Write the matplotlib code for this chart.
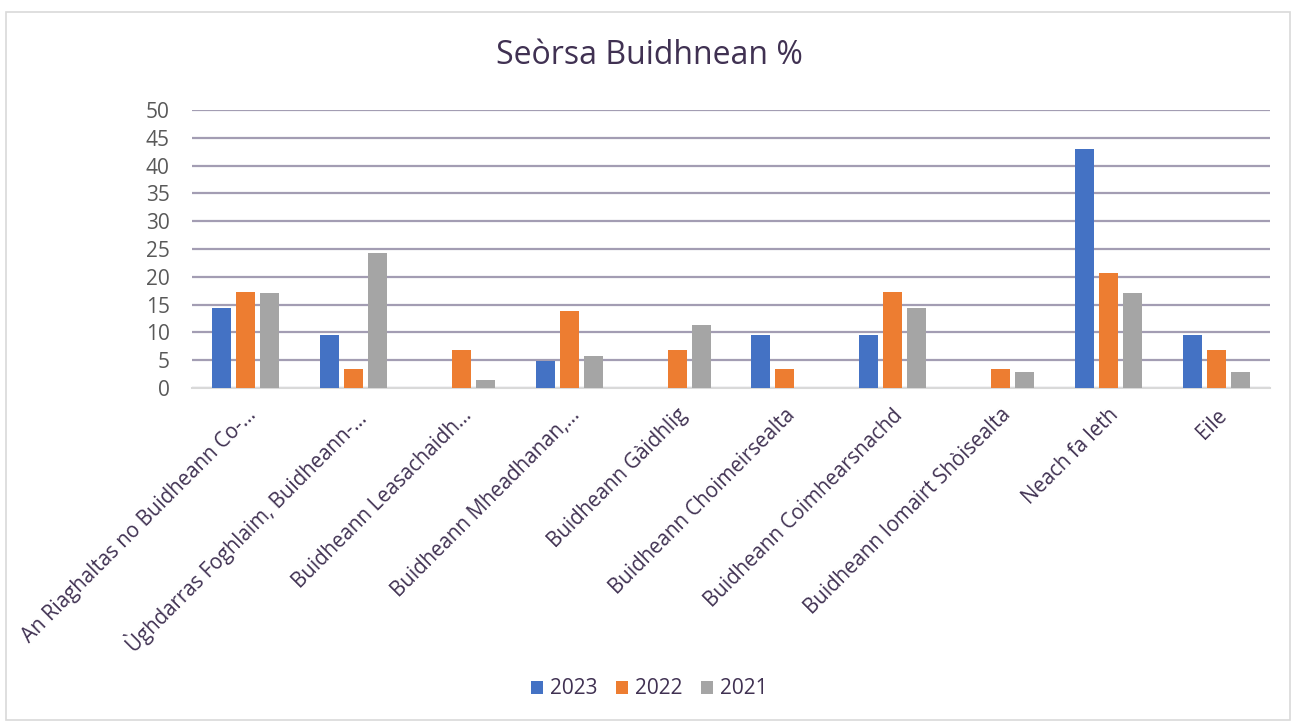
import matplotlib.pyplot as plt
import numpy as np
from matplotlib.patches import Rectangle

# data
categories = [
    "An Riaghaltas no Buidheann Co-...",
    "Ùghdarras Foghlaim, Buidheann-...",
    "Buidheann Leasachaidh...",
    "Buidheann Mheadhanan,...",
    "Buidheann Gàidhlig",
    "Buidheann Choimeirsealta",
    "Buidheann Coimhearsnachd",
    "Buidheann Iomairt Shòisealta",
    "Neach fa leth",
    "Eile",
]
years = ["2023", "2022", "2021"]
v2023 = [14.3, 9.5, 0, 4.8, 0, 9.5, 9.5, 0, 42.9, 9.5]
v2022 = [17.2, 3.4, 6.9, 13.8, 6.9, 3.4, 17.2, 3.4, 20.7, 6.9]
v2021 = [17.1, 24.3, 1.4, 5.7, 11.4, 0, 14.3, 2.9, 17.1, 2.9]
colors = ["#4472C4", "#ED7D31", "#A5A5A5"]

plt.rcParams['font.family'] = ['Open Sans', 'DejaVu Sans']
txt_col = "#403152"

fig = plt.figure(figsize=(12.98, 7.22), dpi=100)
ax = fig.add_axes([192/1298, 1 - 388/722, (1270-192)/1298, (388-110)/722])

x = np.arange(len(categories))
w = 0.176
step = 0.223
for i, (vals, yr) in enumerate(zip([v2023, v2022, v2021], years)):
    ax.bar(x + (i - 1) * step, vals, width=w, color=colors[i], label=yr, zorder=3)

ax.set_xlim(-0.5, len(categories) - 0.5)
ax.set_ylim(0, 50)
ax.set_yticks(range(0, 51, 5))
ax.yaxis.grid(True, color="#A39DB3", linewidth=1.6, zorder=0)
for s in ["top", "right", "left"]:
    ax.spines[s].set_visible(False)
ax.spines["bottom"].set_color("#D9D9D9")
ax.spines["bottom"].set_linewidth(1.5)
ax.tick_params(axis="both", length=0)
ax.tick_params(axis="y", labelsize=15, labelcolor="#595959", pad=16)
ax.set_xticks(x)
ax.set_xticklabels(categories, rotation=45, ha="right", rotation_mode="anchor",
                   fontsize=14.8, color=txt_col)
ax.tick_params(axis="x", pad=12)

fig.text(0.5, 1 - 55/722, "Seòrsa Buidhnean %", ha="center", va="center",
         fontsize=23, color=txt_col)

fig.legend(loc="center", bbox_to_anchor=(0.5, 1 - 689/722), ncol=3, frameon=False,
           fontsize=15, handlelength=0.6, handleheight=0.6, columnspacing=0.9,
           handletextpad=0.3, labelcolor=txt_col)

fig.patches.append(Rectangle((6/1298, 2/722), 1284/1298, 708/722, transform=fig.transFigure,
                             fill=False, edgecolor="#D9D9D9", linewidth=1.2))

fig.savefig("out.png", dpi=100)
